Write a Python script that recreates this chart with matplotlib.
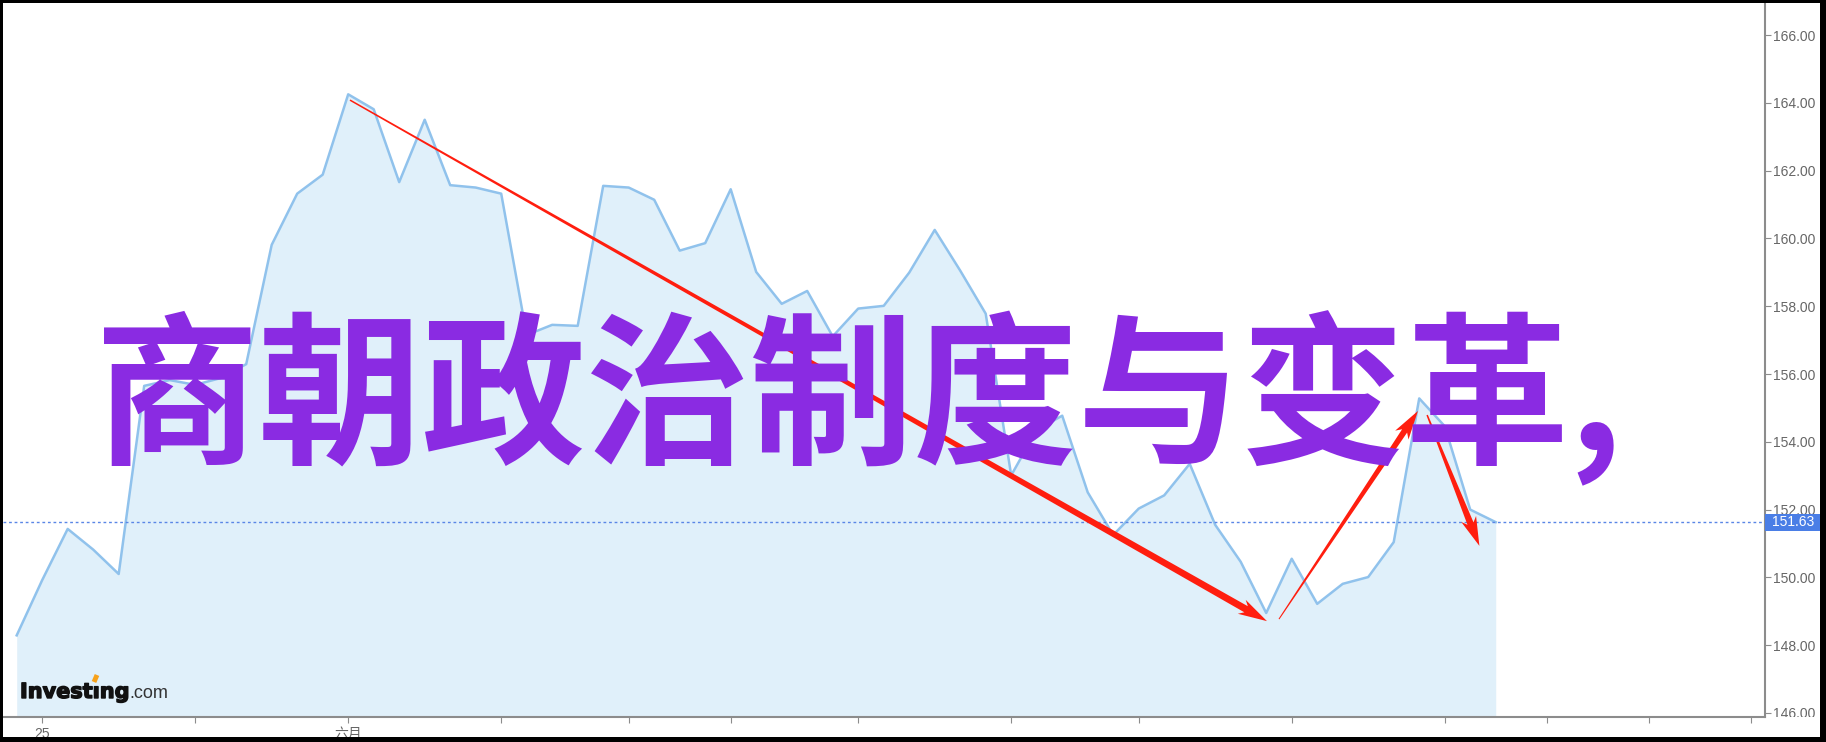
import numpy as np
import matplotlib
matplotlib.use("Agg")
import matplotlib.pyplot as plt
import matplotlib.patheffects as pe
from matplotlib.patches import Polygon, Rectangle
from matplotlib.transforms import IdentityTransform, Bbox, blended_transform_factory

plt.rcParams['font.family'] = ['Liberation Sans', 'Noto Sans CJK SC', 'DejaVu Sans']

# daily closes, one per trading day
closes = [148.29, 149.92, 151.43, 150.82, 150.10, 155.65, 155.82, 155.68, 155.88, 156.29,
          159.81, 161.32, 161.88, 164.25, 163.81, 161.66, 163.50, 161.57, 161.50, 161.32,
          157.15, 157.45, 157.42, 161.55, 161.50, 161.14, 159.64, 159.86, 161.45, 159.01,
          158.07, 158.45, 157.11, 157.93, 158.01, 158.99, 160.25, 159.05, 157.78, 153.01,
          154.35, 154.77, 152.51, 151.25, 152.03, 152.42, 153.35, 151.55, 150.46, 148.95,
          150.55, 149.22, 149.81, 150.01, 151.04, 155.28, 154.46, 152.00, 151.63]
days = np.arange(len(closes))
last_price = 151.63

tick_days = [1, 7, 13, 19, 24, 28, 33, 39, 44, 50, 56, 60, 64, 68]
tick_names = ["25", "", "六月", "", "", "", "", "", "", "", "", "", "", ""]
price_ticks = np.arange(146, 167, 2)

title = "商朝政治制度与变革,"

# red hand-drawn arrows, (day, price) start -> end
arrow_start = [(13.07, 164.08), (49.5, 148.77), (55.31, 154.79)]
arrow_end = [(49.03, 148.71), (54.95, 154.91), (57.36, 150.93)]
arrow_w0 = [1.5, 1.0, 1.5]
arrow_w1 = [7.0, 6.0, 6.5]

W, H = 1826, 742
fig = plt.figure(figsize=(W / 100, H / 100), dpi=100)
fig.patch.set_facecolor('white')
ax = fig.add_axes([3 / W, 25 / H, 1762 / W, 714 / H])
ax.set_xlim(-0.537, 68.56)
ax.set_ylim(145.882, 166.944)

ax.fill_between(days, closes, 145.882, color='#e0f0fa', lw=0)
ax.plot(days, closes, color='#90c2ec', lw=1.8)
ax.axhline(last_price, color='#5a86e6', lw=1, ls=(0, (2, 2)))

for s in ['top', 'left']:
    ax.spines[s].set_visible(False)
for s in ['right', 'bottom']:
    ax.spines[s].set_color('#8c8c8c')
    ax.spines[s].set_linewidth(1.5)

ax.yaxis.tick_right()
ax.set_yticks(price_ticks, [f"{v:.2f}" for v in price_ticks])
ax.tick_params(axis='y', direction='out', length=4, pad=2, labelsize=10,
               color='#8c8c8c', labelcolor='#666666')
ax.set_xticks(tick_days, tick_names)
ax.tick_params(axis='x', direction='out', length=4, pad=3, labelsize=10,
               color='#8c8c8c', labelcolor='#666666')
clip = Bbox([[0, 25], [W, H]])
for lab in ax.get_yticklabels():
    lab.set_clip_box(clip)
    lab.set_clip_on(True)

# last price box
tr = blended_transform_factory(ax.transAxes, ax.transData)
ax.add_patch(Rectangle((1.0, last_price - 0.25), 56 / 1762, 0.5, transform=tr,
                       fc='#4a7ee6', ec='none', clip_on=False, zorder=10))
ax.text(1.0 + 28 / 1762, last_price, "151.63", transform=tr, ha='center', va='center',
        color='white', fontsize=10, clip_on=False, zorder=11)

# arrows
def draw_arrow(start, end, w0, w1, head_len=24, head_w=16):
    p0 = ax.transData.transform(start)
    p1 = ax.transData.transform(end)
    d = p1 - p0
    u = d / np.hypot(*d)
    n = np.array([-u[1], u[0]])
    pb = p1 - u * head_len
    pts = [p0 + n * w0 / 2, pb + n * w1 / 2, pb - u * 5 + n * head_w / 2, p1,
           pb - u * 5 - n * head_w / 2, pb - n * w1 / 2, p0 - n * w0 / 2]
    fig.add_artist(Polygon(pts, closed=True, transform=IdentityTransform(),
                           fc='#ff1e0f', ec='none', zorder=5))

for i in range(len(arrow_start)):
    draw_arrow(arrow_start[i], arrow_end[i], arrow_w0[i], arrow_w1[i])

# big title over the chart
fig.text(95 / W, 1 - 451 / H, title, fontsize=118, fontweight='bold', color='#8a2be2',
         family=['Noto Sans CJK SC', 'DejaVu Sans'], ha='left', va='baseline', zorder=6)

# logo
fig.text(20 / W, 1 - 698 / H, "Investıng", family='DejaVu Sans', fontweight='bold',
         fontsize=15, color='#111111', va='baseline',
         path_effects=[pe.withStroke(linewidth=1.0, foreground='#111111')])
fig.text(129 / W, 1 - 698 / H, ".com", family='Liberation Sans', fontsize=13,
         color='#333333', va='baseline')
fig.add_artist(plt.Line2D([94 / W, 97 / W], [1 - 682 / H, 1 - 675 / H],
                          color='#f7a21b', lw=3.5, solid_capstyle='butt'))

# black frame around the picture
for x0, y0, w, h in [(0, 0, 3, H), (0, H - 3, W, 3), (W - 6, 0, 6, H), (0, 0, W, 5)]:
    fig.add_artist(Rectangle((x0, y0), w, h, transform=IdentityTransform(),
                             fc='black', ec='none', zorder=20))

fig.savefig("out.png", dpi=100)
